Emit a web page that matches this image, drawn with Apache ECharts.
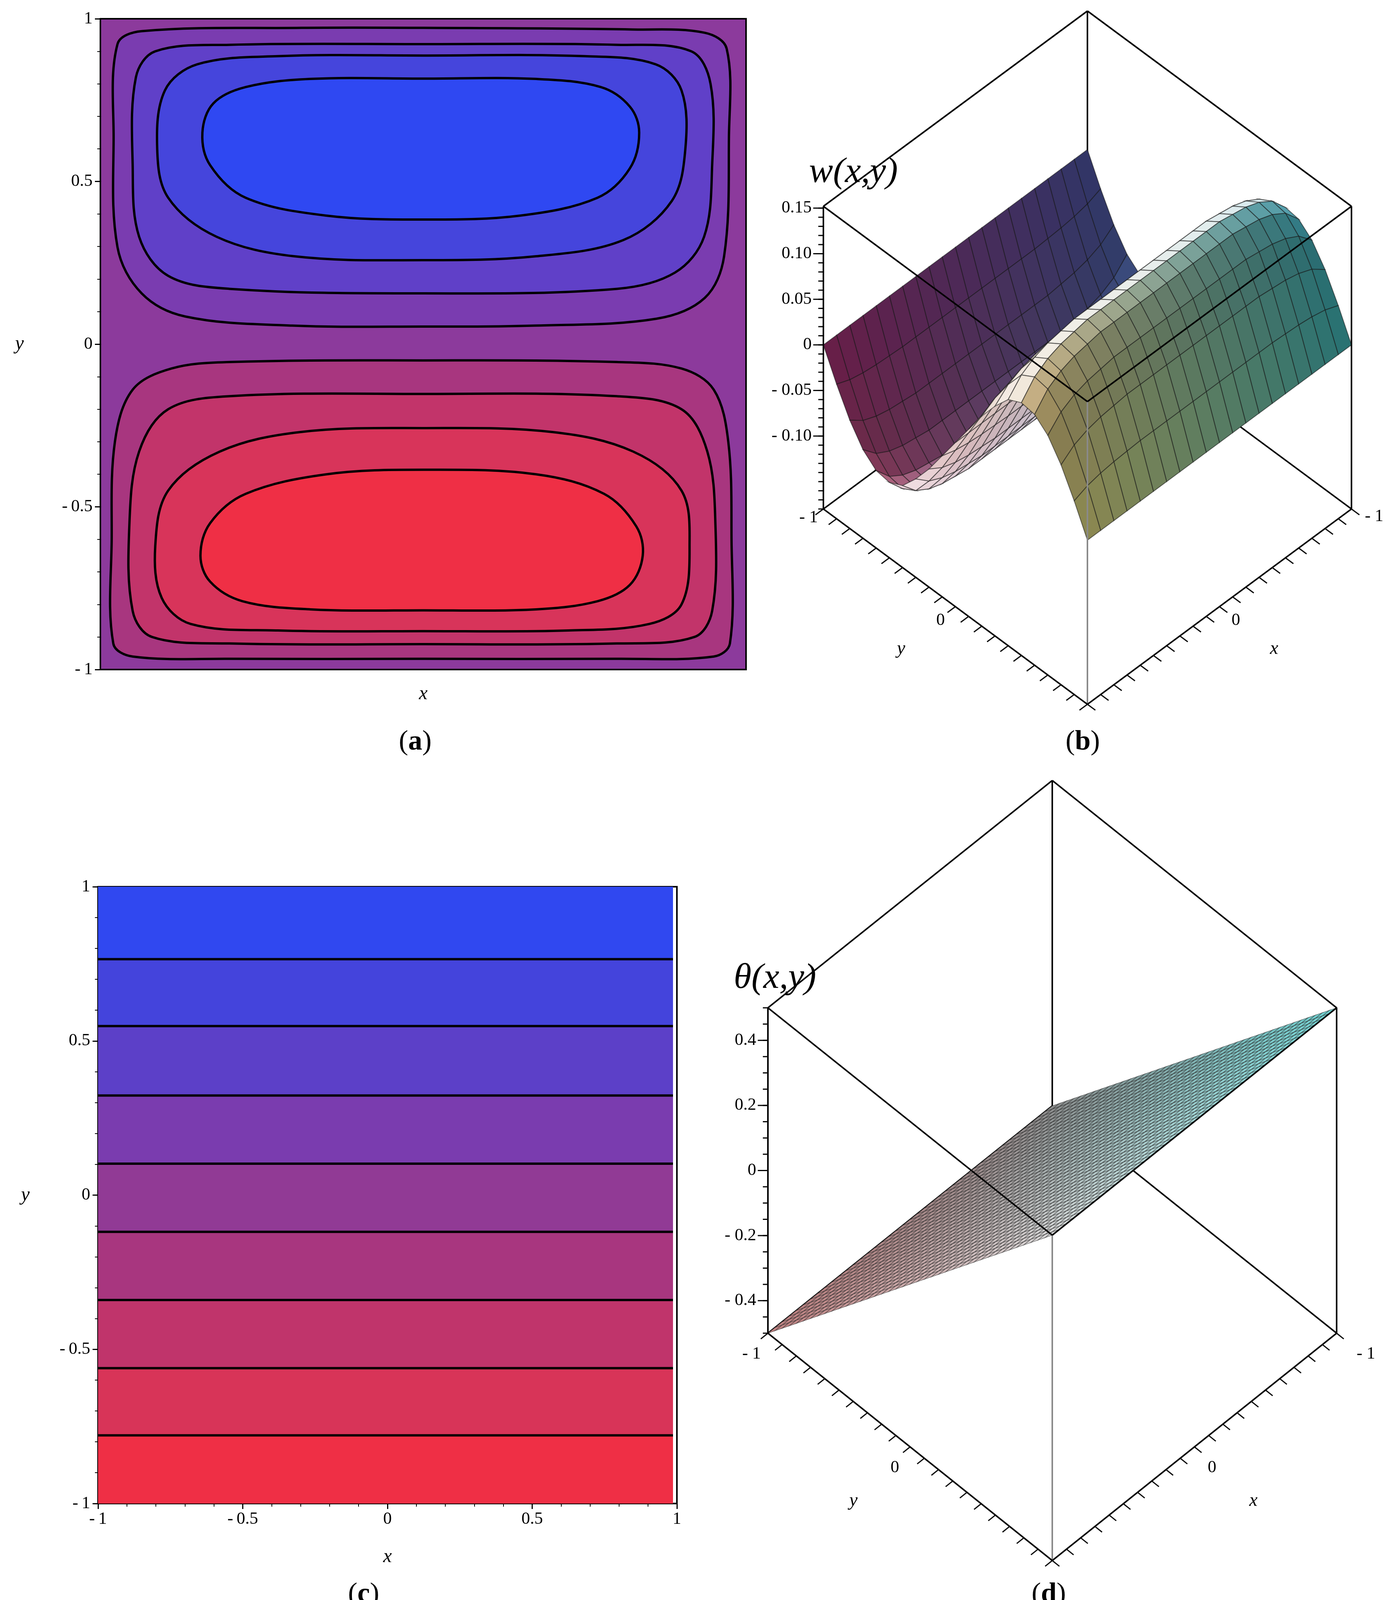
<!DOCTYPE html>
<html lang="en">
<head>
<meta charset="UTF-8">
<title>w(x,y) and theta(x,y)</title>
<script src="https://cdn.jsdelivr.net/npm/echarts@6/dist/echarts.min.js"></script>
<style>html,body{margin:0;padding:0;background:#fff}</style>
</head>
<body>
<div id="fig" style="width:3574px;height:4146px;"></div>
<script>
// ---- (a) contour lines of w, [x, y] ----
const aTopC1 = [[0,0.972],[0.647,0.967],[0.872,0.957],[0.94,0.908],[0.947,0.638],[0.932,0.27],[0.872,0.142],[0.722,0.078],[0.346,0.057],[0,0.054],[-0.406,0.057],[-0.737,0.085],[-0.872,0.156],[-0.947,0.298],[-0.959,0.638],[-0.947,0.922],[-0.872,0.962],[-0.376,0.972]];
const aTopC2 = [[0,0.922],[0.6,0.92],[0.83,0.9],[0.89,0.8],[0.895,0.55],[0.87,0.33],[0.78,0.22],[0.6,0.17],[0,0.156],[-0.6,0.17],[-0.79,0.21],[-0.88,0.33],[-0.9,0.55],[-0.89,0.82],[-0.83,0.9],[-0.6,0.92]];
const aTopC3 = [[0,0.887],[0.5,0.885],[0.72,0.86],[0.8,0.78],[0.812,0.6],[0.77,0.44],[0.62,0.32],[0.35,0.27],[0,0.258],[-0.4,0.27],[-0.64,0.33],[-0.79,0.45],[-0.824,0.6],[-0.8,0.78],[-0.7,0.86],[-0.45,0.885]];
const aTopC4 = [[0,0.816],[0.35,0.815],[0.55,0.79],[0.64,0.73],[0.669,0.65],[0.64,0.54],[0.54,0.45],[0.3,0.395],[0,0.383],[-0.3,0.395],[-0.55,0.45],[-0.66,0.55],[-0.684,0.65],[-0.65,0.74],[-0.55,0.79],[-0.35,0.815]];
const aBotC1 = [[0,-0.05],[0.6,-0.055],[0.8,-0.075],[0.9,-0.14],[0.945,-0.3],[0.955,-0.6],[0.95,-0.92],[0.9,-0.96],[0.6,-0.967],[0,-0.967],[-0.6,-0.967],[-0.9,-0.96],[-0.96,-0.92],[-0.965,-0.6],[-0.955,-0.3],[-0.9,-0.14],[-0.78,-0.075],[-0.6,-0.055]];
const aBotC2 = [[0,-0.153],[0.6,-0.16],[0.8,-0.2],[0.88,-0.33],[0.905,-0.55],[0.895,-0.82],[0.84,-0.9],[0.6,-0.92],[0,-0.922],[-0.6,-0.92],[-0.84,-0.9],[-0.9,-0.82],[-0.91,-0.55],[-0.88,-0.33],[-0.79,-0.2],[-0.6,-0.16]];
const aBotC3 = [[0,-0.258],[0.4,-0.27],[0.65,-0.33],[0.8,-0.45],[0.825,-0.62],[0.8,-0.8],[0.7,-0.86],[0.45,-0.88],[0,-0.882],[-0.45,-0.88],[-0.72,-0.86],[-0.81,-0.78],[-0.83,-0.62],[-0.79,-0.45],[-0.63,-0.33],[-0.38,-0.27]];
const aBotC4 = [[0,-0.386],[0.35,-0.4],[0.56,-0.46],[0.66,-0.56],[0.68,-0.65],[0.64,-0.74],[0.54,-0.79],[0.35,-0.815],[0,-0.818],[-0.35,-0.815],[-0.56,-0.79],[-0.66,-0.73],[-0.69,-0.65],[-0.66,-0.55],[-0.55,-0.46],[-0.3,-0.4]];
const aContours = [aTopC1, aTopC2, aTopC3, aTopC4, aBotC1, aBotC2, aBotC3, aBotC4];
const aFills = ['#7a3cb0', '#6040c8', '#4545dc', '#2f48f2', '#a8367f', '#c2346a', '#d8345a', '#ef2f45'];
const aOutside = '#8c3a9c';

// ---- (c) contour levels of theta (y positions) and band colours ----
const cLevelsY = [0.765, 0.548, 0.323, 0.102, -0.119, -0.340, -0.561, -0.779];
const cBandColors = ['#3048f0', '#4444dc', '#5c40c8', '#7a3caf', '#913a95', '#a8367f', '#c0346b', '#d83458', '#ef2f45'];

// ---- (b) surface w(x,y): profile across y, relative amplitude along x ----
const bXNodes = [-1,-0.9,-0.8,-0.7,-0.6,-0.5,-0.4,-0.3,-0.2,-0.1,0,0.1,0.2,0.3,0.4,0.5,0.6,0.7,0.8,0.9,1];
const bYNodes = [-1,-0.9,-0.8,-0.7,-0.6,-0.5,-0.4,-0.3,-0.2,-0.1,0,0.1,0.2,0.3,0.4,0.5,0.6,0.7,0.8,0.9,1];
const bWByY = [0,-0.045,-0.085,-0.115,-0.132,-0.135,-0.125,-0.10,-0.07,-0.035,0,0.035,0.07,0.10,0.125,0.135,0.132,0.115,0.085,0.045,0];
const bAmpByX = [0.72,0.85,0.92,0.96,0.98,1,1,1,1,1,1,1,1,1,1,1,0.98,0.96,0.92,0.85,0.72];
const bZTicks = [-0.10, -0.05, 0, 0.05, 0.10, 0.15];
const bZLabels = ['- 0.10', '- 0.05', '0', '0.05', '0.10', '0.15'];

// ---- (d) surface theta(x,y): profile across y ----
const dXNodes = bXNodes;
const dYNodes = bYNodes;
const dThetaByY = [-0.5,-0.45,-0.4,-0.35,-0.3,-0.25,-0.2,-0.15,-0.1,-0.05,0,0.05,0.1,0.15,0.2,0.25,0.3,0.35,0.4,0.45,0.5];
const dZTicks = [-0.4, -0.2, 0, 0.2, 0.4];
const dZLabels = ['- 0.4', '- 0.2', '0', '0.2', '0.4'];

const edgeTicks = [-1, 0];
const edgeLabels = ['- 1', '0'];

const SERIF = '"Liberation Serif", "DejaVu Serif", serif';

function hex(c) { return [parseInt(c.slice(1,3),16), parseInt(c.slice(3,5),16), parseInt(c.slice(5,7),16)]; }
function bilin(c00, c10, c01, c11, u, v) {
  return [0,1,2].map(k => (c00[k]*(1-u) + c10[k]*u)*(1-v) + (c01[k]*(1-u) + c11[k]*u)*v);
}
function rgb(a) { return 'rgb(' + a.map(v => Math.max(0, Math.min(255, Math.round(v)))).join(',') + ')'; }

// projections of (x, y, z) to page pixels, through the hidden page axes
const projB = (x, y, z) => [2784 - 338*x + 338*y, 1303 + 250*x + 250*y - (z + 0.18)*2334];
const projD = (x, y, z) => [2694 - 364*x + 364*y, 3413 + 291*x + 291*y - (z + 0.5)*833];

const bC = [hex('#44488f'), hex('#8f2663'), hex('#36a0a0'), hex('#c4c070')];
function shadeB(xc, yc, slope) {
  const s = slope*5.5;
  const d = Math.max(0, (0.6*s + 0.8)/Math.sqrt(1 + s*s));
  const base = bilin(bC[0], bC[1], bC[2], bC[3], (xc+1)/2, (yc+1)/2);
  const f = 0.72 + 0.45*d, sp = 0.85*Math.pow(d, 6);
  return rgb(base.map(v => v*f*(1-sp) + 255*sp));
}
const dC = [hex('#8c8c8c'), hex('#c08080'), hex('#70d4d4'), hex('#dadada')];
function shadeD(xc, yc) { return rgb(bilin(dC[0], dC[1], dC[2], dC[3], (xc+1)/2, (yc+1)/2)); }

function cube(api, P, o) {
  const pt = (x, y, z) => api.coord(P(x, y, z));
  const out = [];
  const seg = (a, b, col, w) => out.push({type: 'line', shape: {x1: a[0], y1: a[1], x2: b[0], y2: b[1]}, style: {stroke: col || '#000', lineWidth: w || 4}});
  const text = (p, t, font, align) => out.push({type: 'text', style: {text: t, x: p[0], y: p[1], fill: '#000', font: font, align: align || 'center', verticalAlign: 'middle'}});
  const z0 = o.z0, z1 = o.z1;
  // hidden back edges first
  seg(pt(-1,-1,z0), pt(-1,-1,z1));
  seg(pt(-1,-1,z0), pt(1,-1,z0));
  seg(pt(-1,-1,z0), pt(-1,1,z0));
  // surface, painted back to front
  const xs = o.xs, ys = o.ys, sub = o.sub;
  const split = (n, k) => { const i = Math.min(Math.floor(k/sub), n-2); return [i, k/sub - i]; };
  const at = (arr, k) => { const [i, f] = split(arr.length, k); return arr[i] + (arr[i+1]-arr[i])*f; };
  const zAt = (ki, kj) => {
    const [i, fi] = split(xs.length, ki), [j, fj] = split(ys.length, kj);
    return (o.z(i,j)*(1-fi) + o.z(i+1,j)*fi)*(1-fj) + (o.z(i,j+1)*(1-fi) + o.z(i+1,j+1)*fi)*fj;
  };
  const nx = (xs.length-1)*sub, ny = (ys.length-1)*sub;
  const quads = [];
  for (let i = 0; i < nx; i++) {
    for (let j = 0; j < ny; j++) {
      const x0 = at(xs, i), x1 = at(xs, i+1), y0 = at(ys, j), y1 = at(ys, j+1);
      const z00 = zAt(i, j), z10 = zAt(i+1, j), z11 = zAt(i+1, j+1), z01 = zAt(i, j+1);
      const slope = ((z01 + z11) - (z00 + z10))/2/(y1 - y0);
      quads.push({d: x0+x1+y0+y1, el: {type: 'polygon',
        shape: {points: [pt(x0,y0,z00), pt(x1,y0,z10), pt(x1,y1,z11), pt(x0,y1,z01)]},
        style: {fill: o.shade((x0+x1)/2, (y0+y1)/2, slope), stroke: o.mesh, lineWidth: o.meshW}}});
    }
  }
  quads.sort((a, b) => a.d - b.d).forEach(q => out.push(q.el));
  // visible edges
  seg(pt(1,-1,z0), pt(1,-1,z1));
  seg(pt(-1,1,z0), pt(-1,1,z1));
  seg(pt(1,1,z0), pt(1,1,z1), '#8a8a8a', 4);
  seg(pt(1,-1,z0), pt(1,1,z0));
  seg(pt(-1,1,z0), pt(1,1,z0));
  seg(pt(-1,-1,z1), pt(1,-1,z1));
  seg(pt(-1,-1,z1), pt(-1,1,z1));
  seg(pt(1,-1,z1), pt(1,1,z1));
  seg(pt(-1,1,z1), pt(1,1,z1));
  // z axis ticks on the left vertical edge
  for (let k = Math.ceil(z0/o.zMinor - 1e-9); k*o.zMinor <= z1 + 1e-9; k++) {
    const a = pt(1, -1, k*o.zMinor);
    seg(a, [a[0] - 13, a[1]], '#000', 3);
  }
  o.zTicks.forEach((z, i) => {
    const a = pt(1, -1, z);
    seg(a, [a[0] - 26, a[1]], '#000', 3);
    text([a[0] - 30, a[1]], o.zLabels[i], '44px ' + SERIF, 'right');
  });
  // ticks along the two front bottom edges
  for (let k = -10; k <= 10; k++) {
    const t = k/10;
    seg(pt(1, t, z0), pt(1 + o.tl, t, z0), '#000', 3);
    seg(pt(t, 1, z0), pt(t, 1 + o.tl, z0), '#000', 3);
  }
  edgeTicks.forEach((t, i) => {
    const a = pt(1, t, z0), b = pt(t, 1, z0);
    const oy = o.lab[i === 0 ? 0 : 1], ox = o.lab[i === 0 ? 2 : 3];
    text([a[0] + oy[0], a[1] + oy[1]], edgeLabels[i], '44px ' + SERIF);
    text([b[0] + ox[0], b[1] + ox[1]], edgeLabels[i], '44px ' + SERIF);
  });
  const ya = pt(1, 0, z0), xa = pt(0, 1, z0);
  text([ya[0] + o.names[0][0], ya[1] + o.names[0][1]], 'y', 'italic 48px ' + SERIF);
  text([xa[0] + o.names[1][0], xa[1] + o.names[1][1]], 'x', 'italic 48px ' + SERIF);
  return {type: 'group', children: out};
}

const tickLabel = v => v < 0 ? '-\u2009' + (-v) : String(v);
const axisFont = {fontFamily: SERIF, fontSize: 44, color: '#000'};
const nameFont = {fontFamily: SERIF, fontSize: 50, fontStyle: 'italic', color: '#000'};
const panelLabel = (t, x, y) => ({type: 'text', x: x, y: y, style: {text: '({b|' + t + '})', font: '72px ' + SERIF, fill: '#000', align: 'center', verticalAlign: 'middle', rich: {b: {fontWeight: 'bold', fontSize: 72, fontFamily: SERIF}}}});

const chart = echarts.init(document.getElementById('fig'), null, {renderer: 'canvas'});
chart.setOption({
  animation: false,
  backgroundColor: '#fff',
  grid: [
    {left: 257, top: 48, width: 1653, height: 1666, show: true, backgroundColor: aOutside, borderColor: '#000', borderWidth: 4},
    {left: 251, top: 2270, width: 1482, height: 1579, show: true, backgroundColor: '#fff', borderColor: '#000', borderWidth: 4},
    {left: 0, top: 0, width: 3574, height: 4146}
  ],
  xAxis: [
    {gridIndex: 0, type: 'value', min: -1, max: 1, axisLine: {show: false}, axisTick: {show: false}, axisLabel: {show: false}, splitLine: {show: false},
     name: 'x', nameLocation: 'middle', nameGap: 38, nameTextStyle: nameFont},
    {gridIndex: 1, type: 'value', min: -1, max: 1, interval: 0.5, splitLine: {show: false},
     axisLine: {show: true, onZero: false, lineStyle: {color: '#000', width: 3}},
     axisTick: {length: 14, lineStyle: {color: '#000', width: 3}}, minorTick: {show: true, splitNumber: 5, length: 8, lineStyle: {color: '#000', width: 2}},
     axisLabel: Object.assign({margin: 18, formatter: tickLabel}, axisFont),
     name: 'x', nameLocation: 'middle', nameGap: 112, nameTextStyle: nameFont},
    {gridIndex: 2, type: 'value', min: 0, max: 3574, show: false}
  ],
  yAxis: [
    {gridIndex: 0, type: 'value', min: -1, max: 1, interval: 0.5, splitLine: {show: false},
     axisLine: {show: true, onZero: false, lineStyle: {color: '#000', width: 3}},
     axisTick: {length: 14, lineStyle: {color: '#000', width: 3}}, minorTick: {show: true, splitNumber: 5, length: 8, lineStyle: {color: '#000', width: 2}},
     axisLabel: Object.assign({margin: 20, formatter: tickLabel}, axisFont),
     name: 'y', nameLocation: 'middle', nameRotate: 0, nameGap: 196, nameTextStyle: nameFont},
    {gridIndex: 1, type: 'value', min: -1, max: 1, interval: 0.5, splitLine: {show: false},
     axisLine: {show: true, onZero: false, lineStyle: {color: '#000', width: 3}},
     axisTick: {length: 14, lineStyle: {color: '#000', width: 3}}, minorTick: {show: true, splitNumber: 5, length: 8, lineStyle: {color: '#000', width: 2}},
     axisLabel: Object.assign({margin: 20, formatter: tickLabel}, axisFont),
     name: 'y', nameLocation: 'middle', nameRotate: 0, nameGap: 175, nameTextStyle: nameFont},
    {gridIndex: 2, type: 'value', min: 0, max: 4146, inverse: true, show: false}
  ],
  series: [
    {
      type: 'custom', xAxisIndex: 0, yAxisIndex: 0, silent: true, clip: false,
      data: aContours.map((c, i) => [i]),
      renderItem: function (params, api) {
        const i = api.value(0);
        return {type: 'polygon', shape: {points: aContours[i].map(p => api.coord(p)), smooth: 0.35},
                style: {fill: aFills[i], stroke: '#000', lineWidth: 6}};
      }
    },
    {
      type: 'custom', xAxisIndex: 1, yAxisIndex: 1, silent: true,
      data: cBandColors.map((c, i) => [i]),
      renderItem: function (params, api) {
        const i = api.value(0);
        const bounds = [1].concat(cLevelsY, [-1]);
        const a = api.coord([-1, bounds[i]]), b = api.coord([1, bounds[i+1]]);
        return {type: 'rect', shape: {x: a[0], y: a[1], width: b[0]-a[0] - 10, height: b[1]-a[1]}, style: {fill: cBandColors[i]}};
      }
    },
    {
      type: 'custom', xAxisIndex: 1, yAxisIndex: 1, silent: true,
      data: cLevelsY.map(v => [v]),
      renderItem: function (params, api) {
        const a = api.coord([-1, api.value(0)]), b = api.coord([1, api.value(0)]);
        return {type: 'line', shape: {x1: a[0], y1: a[1], x2: b[0] - 10, y2: b[1]}, style: {stroke: '#000', lineWidth: 6}};
      }
    },
    {
      type: 'custom', xAxisIndex: 2, yAxisIndex: 2, silent: true, clip: false, data: [[0, 0]],
      renderItem: function (params, api) {
        return cube(api, projB, {z0: -0.18, z1: 0.152, xs: bXNodes, ys: bYNodes, z: (i, j) => bWByY[j]*bAmpByX[i], sub: 1,
          shade: shadeB, mesh: 'rgba(20,20,20,0.55)', meshW: 2.2, zMinor: 0.01, zTicks: bZTicks, zLabels: bZLabels, tl: 0.06,
          lab: [[-38, 22], [-38, 35], [58, 19], [42, 35]], names: [[-139, 108], [140, 108]]});
      }
    },
    {
      type: 'custom', xAxisIndex: 2, yAxisIndex: 2, silent: true, clip: false, data: [[0, 0]],
      renderItem: function (params, api) {
        return cube(api, projD, {z0: -0.5, z1: 0.5, xs: dXNodes, ys: dYNodes, z: (i, j) => dThetaByY[j], sub: 2,
          shade: shadeD, mesh: 'rgba(40,40,40,0.6)', meshW: 1.4, zMinor: 0.05, zTicks: dZTicks, zLabels: dZLabels, tl: 0.05,
          lab: [[-42, 53], [-39, 53], [75, 53], [45, 53]], names: [[-145, 138], [151, 138]]});
      }
    }
  ],
  graphic: [
    {type: 'text', x: 2185, y: 442, style: {text: 'w(x,y)', font: 'italic 92px ' + SERIF, fill: '#000', align: 'center', verticalAlign: 'middle'}},
    {type: 'text', x: 1984, y: 2505, style: {text: 'θ(x,y)', font: 'italic 92px ' + SERIF, fill: '#000', align: 'center', verticalAlign: 'middle'}},
    panelLabel('a', 1063, 1900),
    panelLabel('b', 2772, 1900),
    panelLabel('c', 931, 4082),
    panelLabel('d', 2685, 4082)
  ]
});
</script>
</body>
</html>
